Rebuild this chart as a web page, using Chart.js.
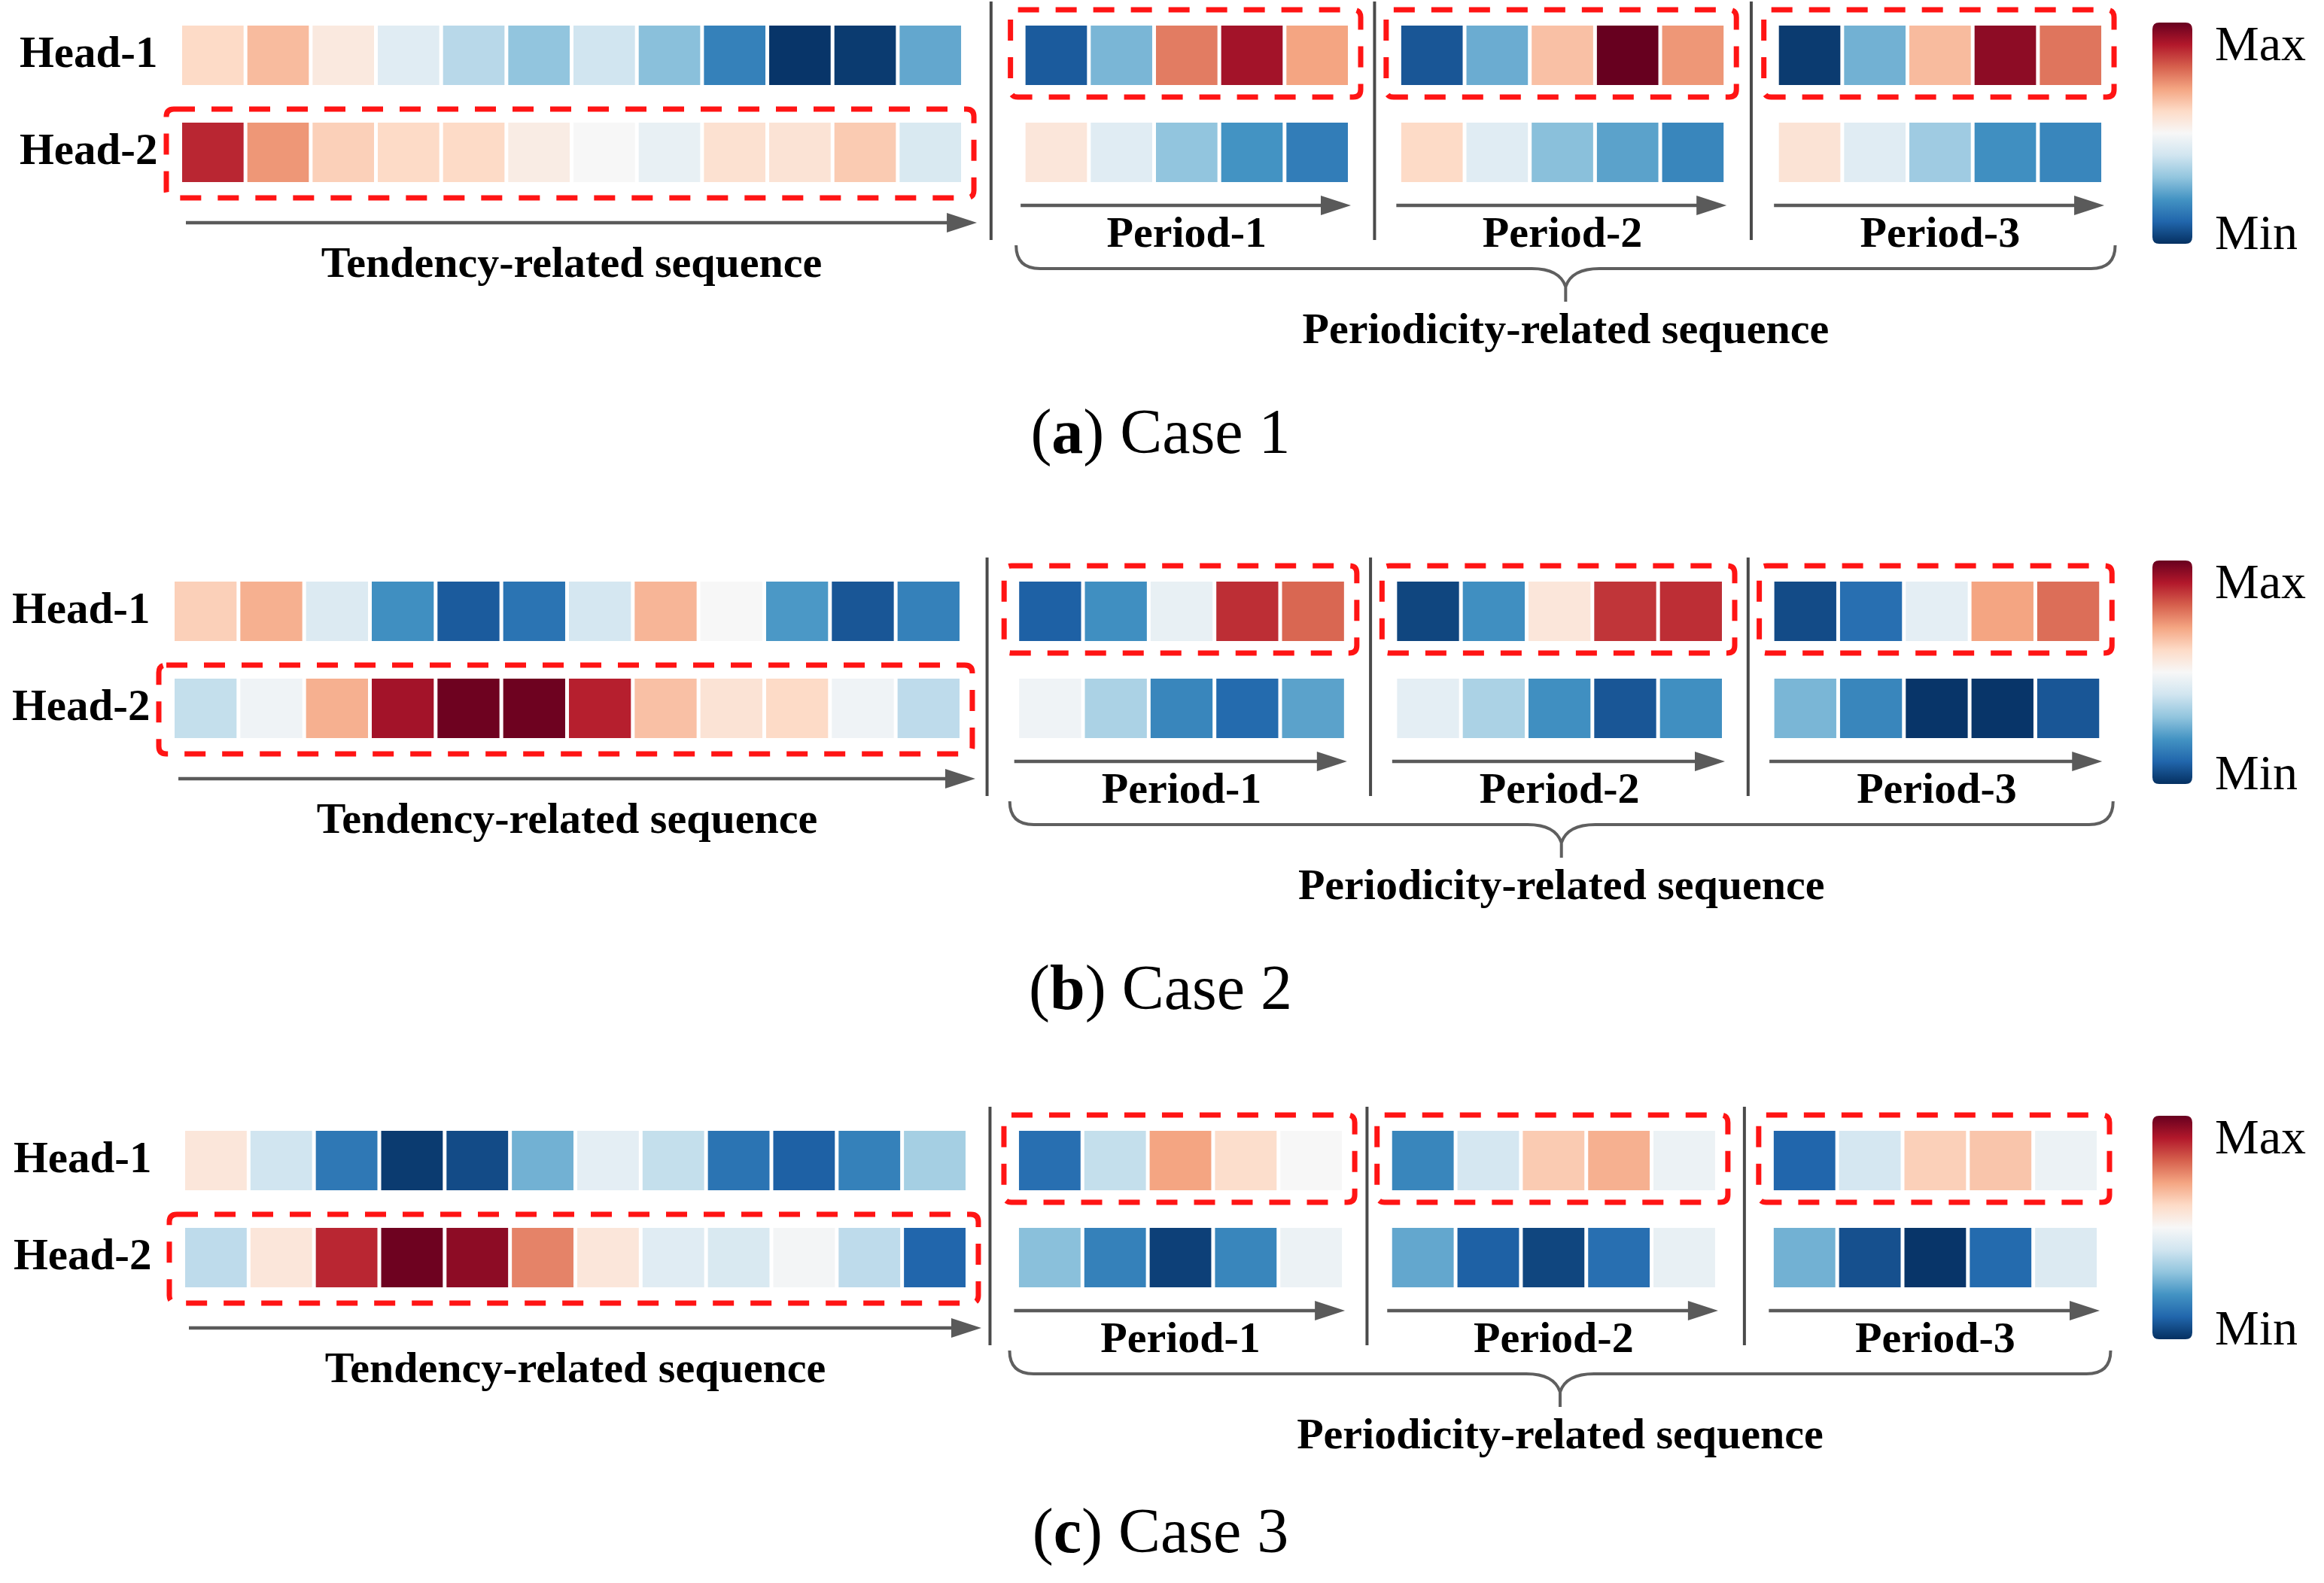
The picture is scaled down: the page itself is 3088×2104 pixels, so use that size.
<!DOCTYPE html>
<html>
<head>
<meta charset="utf-8">
<script src="https://cdn.jsdelivr.net/npm/chart.js@4.4.1/dist/chart.umd.min.js"></script>
<style>
  html, body { margin: 0; padding: 0; background: #ffffff; overflow: hidden; width: 3088px; height: 2104px; }
  .panel { position: absolute; left: 0; width: 3088px; height: 660px; }
</style>
</head>
<body>
<div class="panel" style="top:0px"><canvas id="chartA" width="3088" height="660"></canvas></div>
<div class="panel" style="top:739px"><canvas id="chartB" width="3088" height="660"></canvas></div>
<div class="panel" style="top:1469px"><canvas id="chartC" width="3088" height="660"></canvas></div>
<script>
// ---------------- DATA (0 = Min, 1 = Max) ----------------
const heads = ['Head-1', 'Head-2'];
const periodLabels = ['Period-1', 'Period-2', 'Period-3'];
const tendencyLabel = 'Tendency-related sequence';
const periodicityLabel = 'Periodicity-related sequence';
const colorbarLabels = ['Max', 'Min'];
const captionLetters = ['a', 'b', 'c'];
const captionTexts = ['Case 1', 'Case 2', 'Case 3'];

// Case 1
const case1TendencyHead1 = [0.60, 0.66, 0.55, 0.44, 0.36, 0.30, 0.40, 0.29, 0.16, 0.01, 0.02, 0.24];
const case1TendencyHead2 = [0.88, 0.72, 0.62, 0.60, 0.60, 0.54, 0.50, 0.46, 0.58, 0.57, 0.63, 0.42];
const case1PeriodHead1 = [[0.08, 0.27, 0.76, 0.92, 0.70], [0.07, 0.25, 0.65, 1.00, 0.72], [0.02, 0.26, 0.66, 0.95, 0.77]];
const case1PeriodHead2 = [[0.56, 0.44, 0.30, 0.20, 0.15], [0.60, 0.44, 0.29, 0.23, 0.17], [0.57, 0.44, 0.32, 0.19, 0.17]];

// Case 2
const case2TendencyHead1 = [0.62, 0.68, 0.43, 0.19, 0.08, 0.13, 0.41, 0.67, 0.50, 0.21, 0.07, 0.16];
const case2TendencyHead2 = [0.38, 0.48, 0.68, 0.92, 0.99, 0.99, 0.89, 0.65, 0.57, 0.60, 0.48, 0.37];
const case2PeriodHead1 = [[0.09, 0.19, 0.46, 0.87, 0.79], [0.04, 0.19, 0.56, 0.86, 0.87], [0.05, 0.12, 0.45, 0.70, 0.78]];
const case2PeriodHead2 = [[0.48, 0.34, 0.17, 0.11, 0.23], [0.45, 0.34, 0.19, 0.07, 0.19], [0.27, 0.17, 0.01, 0.01, 0.07]];

// Case 3
const case3TendencyHead1 = [0.56, 0.40, 0.14, 0.02, 0.05, 0.26, 0.45, 0.38, 0.13, 0.09, 0.16, 0.33];
const case3TendencyHead2 = [0.37, 0.56, 0.88, 0.99, 0.95, 0.75, 0.56, 0.44, 0.42, 0.49, 0.37, 0.10];
const case3PeriodHead1 = [[0.12, 0.38, 0.70, 0.59, 0.50], [0.17, 0.41, 0.63, 0.68, 0.47], [0.10, 0.41, 0.62, 0.64, 0.47]];
const case3PeriodHead2 = [[0.29, 0.16, 0.03, 0.17, 0.47], [0.24, 0.09, 0.04, 0.12, 0.46], [0.26, 0.06, 0.01, 0.11, 0.43]];

// ---------------- LAYOUT / STYLE ----------------
const W = 3088, H = 660;
const XMAX = 30;
const ROW_TOP = 34, ROW_PITCH = 129, ROW_H = 79;
const BAR_PCT = ROW_H / ROW_PITCH;
const INSET = 2.5;
const panelLayout = [
  { origin: 239.5, pitch: 86.67, periodStart: [12.93, 18.69, 24.48], cbar: [30, 324], captionY: 602, tickPad: 30 },
  { origin: 229.5, pitch: 87.33, periodStart: [12.85, 18.60, 24.34], cbar: [6, 303], captionY: 602, tickPad: 30 },
  { origin: 243.5, pitch: 86.83, periodStart: [12.76, 18.47, 24.31], cbar: [14, 311], captionY: 594, tickPad: 42 }
];
const SERIF = '"Liberation Serif", "Times New Roman", serif';
const RDBU = ['#053061', '#2166ac', '#4393c3', '#92c5de', '#d1e5f0', '#f7f7f7', '#fddbc7', '#f4a582', '#d6604d', '#b2182b', '#67001f'];

function hexRgb(h) { return [parseInt(h.slice(1, 3), 16), parseInt(h.slice(3, 5), 16), parseInt(h.slice(5, 7), 16)]; }
function rdbu(v) {
  const t = Math.max(0, Math.min(1, v)) * 10;
  const i = Math.min(9, Math.floor(t));
  const f = t - i;
  const a = hexRgb(RDBU[i]), b = hexRgb(RDBU[i + 1]);
  return 'rgb(' + a.map((c, k) => Math.round(c + (b[k] - c) * f)).join(',') + ')';
}

function buildCells(tH1, tH2, pH1, pH2, L) {
  const data = [], colors = [];
  const add = (start, vals, head) => vals.forEach((v, i) => {
    data.push({ x: [start + i, start + i + 1], y: head });
    colors.push(rdbu(v));
  });
  add(0, tH1, heads[0]);
  add(0, tH2, heads[1]);
  pH1.forEach((vals, k) => add(L.periodStart[k], vals, heads[0]));
  pH2.forEach((vals, k) => add(L.periodStart[k], vals, heads[1]));
  return { data, colors };
}

function roundRectPath(ctx, x0, y0, x1, y1, r) {
  ctx.beginPath();
  ctx.moveTo(x0 + r, y0);
  ctx.lineTo(x1 - r, y0);
  ctx.quadraticCurveTo(x1, y0, x1, y0 + r);
  ctx.lineTo(x1, y1 - r);
  ctx.quadraticCurveTo(x1, y1, x1 - r, y1);
  ctx.lineTo(x0 + r, y1);
  ctx.quadraticCurveTo(x0, y1, x0, y1 - r);
  ctx.lineTo(x0, y0 + r);
  ctx.quadraticCurveTo(x0, y0, x0 + r, y0);
  ctx.closePath();
}

function arrow(ctx, x0, x1, y) {
  ctx.save();
  ctx.strokeStyle = '#5a5a5a';
  ctx.fillStyle = '#5a5a5a';
  ctx.lineWidth = 4.5;
  ctx.beginPath();
  ctx.moveTo(x0, y);
  ctx.lineTo(x1 - 30, y);
  ctx.stroke();
  ctx.beginPath();
  ctx.moveTo(x1, y);
  ctx.lineTo(x1 - 40, y - 13);
  ctx.lineTo(x1 - 40, y + 13);
  ctx.closePath();
  ctx.fill();
  ctx.restore();
}

const annotPlugin = {
  id: 'annot',
  afterDatasetsDraw(chart, args, opts) {
    const L = panelLayout[opts.panel];
    const ctx = chart.ctx, xs = chart.scales.x, ys = chart.scales.y;
    const X = v => xs.getPixelForValue(v);
    const band = ys.getPixelForValue(1) - ys.getPixelForValue(0);
    const rh = band * BAR_PCT;
    const rTop = r => ys.getPixelForValue(r) - rh / 2;
    const rBot = r => ys.getPixelForValue(r) + rh / 2;
    const n = case1TendencyHead1.length, pl = case1PeriodHead1[0].length;
    ctx.save();
    ctx.setLineDash([28, 22]);
    ctx.lineWidth = 7;
    ctx.strokeStyle = '#ff1414';
    roundRectPath(ctx, X(0) + INSET - 21, rTop(1) - 18, X(n) - INSET + 17, rBot(1) + 21, 10);
    ctx.stroke();
    L.periodStart.forEach(s => {
      roundRectPath(ctx, X(s) + INSET - 20, rTop(0) - 21, X(s + pl) - INSET + 17, rBot(0) + 16, 10);
      ctx.stroke();
    });
    ctx.restore();
  },
  afterDraw(chart, args, opts) {
    const k = opts.panel;
    const L = panelLayout[k];
    const ctx = chart.ctx, xs = chart.scales.x, ys = chart.scales.y;
    const X = v => xs.getPixelForValue(v);
    const band = ys.getPixelForValue(1) - ys.getPixelForValue(0);
    const rh = band * BAR_PCT;
    const bot = ys.getPixelForValue(1) + rh / 2;
    const n = case1TendencyHead1.length, pl = case1PeriodHead1[0].length;
    const ps = L.periodStart;

    // arrows
    arrow(ctx, X(0) + 7.5, X(n) + 18.5, bot + 54);
    ps.forEach(s => arrow(ctx, X(s) - 4, X(s + pl) + 1.5, bot + 31));

    // dividers
    ctx.save();
    ctx.strokeStyle = '#4a4a4a';
    ctx.lineWidth = 4;
    const divs = [(X(n) + X(ps[0])) / 2 - 3, (X(ps[0] + pl) + X(ps[1])) / 2, (X(ps[1] + pl) + X(ps[2])) / 2];
    divs.forEach(x => { ctx.beginPath(); ctx.moveTo(x, 2); ctx.lineTo(x, bot + 77); ctx.stroke(); });
    ctx.restore();

    // bold labels
    ctx.save();
    ctx.fillStyle = '#000';
    ctx.textAlign = 'center';
    ctx.textBaseline = 'alphabetic';
    ctx.font = 'bold 58px ' + SERIF;
    ctx.fillText(tendencyLabel, (X(0) + X(n)) / 2, bot + 126);
    ps.forEach((s, i) => ctx.fillText(periodLabels[i], X(s + pl / 2), bot + 86));

    // brace
    const bl = X(ps[0]) - 10, br = X(ps[2] + pl) + 16;
    const bt = bot + 84, by = bt + 31, tip = bt + 75, cx = (bl + br) / 2;
    ctx.strokeStyle = '#5f5f5f';
    ctx.lineWidth = 4;
    ctx.beginPath();
    ctx.moveTo(bl, bt);
    ctx.quadraticCurveTo(bl, by, bl + 32, by);
    ctx.lineTo(cx - 45, by);
    ctx.quadraticCurveTo(cx - 8, by, cx, by + 24);
    ctx.lineTo(cx, tip);
    ctx.moveTo(br, bt);
    ctx.quadraticCurveTo(br, by, br - 32, by);
    ctx.lineTo(cx + 45, by);
    ctx.quadraticCurveTo(cx + 8, by, cx, by + 24);
    ctx.stroke();
    ctx.fillText(periodicityLabel, cx, bot + 214);
    ctx.restore();

    // colorbar
    ctx.save();
    const cx0 = 2860, cx1 = 2913, cy0 = L.cbar[0], cy1 = L.cbar[1];
    const g = ctx.createLinearGradient(0, cy0, 0, cy1);
    RDBU.slice().reverse().forEach((c, i) => g.addColorStop(i / (RDBU.length - 1), c));
    roundRectPath(ctx, cx0, cy0, cx1, cy1, 9);
    ctx.fillStyle = g;
    ctx.fill();
    ctx.fillStyle = '#000';
    ctx.textAlign = 'left';
    ctx.font = '66px ' + SERIF;
    ctx.fillText(colorbarLabels[0], 2943, cy0 + 50);
    ctx.fillText(colorbarLabels[1], 2943, cy1 + 7);
    ctx.restore();

    // caption
    ctx.save();
    ctx.fillStyle = '#000';
    ctx.textAlign = 'left';
    const reg = '84px ' + SERIF, bold = 'bold 84px ' + SERIF;
    ctx.font = reg; const w1 = ctx.measureText('(').width;
    ctx.font = bold; const w2 = ctx.measureText(captionLetters[k]).width;
    ctx.font = reg; const rest = ') ' + captionTexts[k]; const w3 = ctx.measureText(rest).width;
    let x = 1542 - (w1 + w2 + w3) / 2;
    const y = L.captionY;
    ctx.font = reg; ctx.fillText('(', x, y); x += w1;
    ctx.font = bold; ctx.fillText(captionLetters[k], x, y); x += w2;
    ctx.font = reg; ctx.fillText(rest, x, y);
    ctx.restore();
  }
};

function makeChart(id, k, tH1, tH2, pH1, pH2) {
  const L = panelLayout[k];
  const cells = buildCells(tH1, tH2, pH1, pH2, L);
  const padTop = ROW_TOP - (ROW_PITCH - ROW_H) / 2;
  return new Chart(document.getElementById(id), {
    type: 'bar',
    data: {
      labels: heads,
      datasets: [{
        data: cells.data,
        backgroundColor: cells.colors,
        borderColor: '#ffffff',
        borderWidth: { left: INSET, right: INSET, top: 0, bottom: 0 },
        borderSkipped: false,
        categoryPercentage: 1,
        barPercentage: BAR_PCT,
        inflateAmount: 0
      }]
    },
    options: {
      indexAxis: 'y',
      responsive: false,
      animation: false,
      layout: {
        padding: {
          left: 0,
          right: W - (L.origin + XMAX * L.pitch),
          top: padTop,
          bottom: H - padTop - 2 * ROW_PITCH
        }
      },
      scales: {
        x: { type: 'linear', min: 0, max: XMAX, display: false },
        y: {
          type: 'category',
          offset: true,
          grid: { display: false, drawTicks: false },
          border: { display: false },
          ticks: { color: '#000', padding: L.tickPad, font: { family: SERIF, size: 59, weight: 'bold' } },
          afterFit: s => { s.width = L.origin; s.paddingTop = 0; s.paddingBottom = 0; }
        }
      },
      plugins: { legend: { display: false }, tooltip: { enabled: false }, annot: { panel: k } }
    },
    plugins: [annotPlugin]
  });
}

makeChart('chartA', 0, case1TendencyHead1, case1TendencyHead2, case1PeriodHead1, case1PeriodHead2);
makeChart('chartB', 1, case2TendencyHead1, case2TendencyHead2, case2PeriodHead1, case2PeriodHead2);
makeChart('chartC', 2, case3TendencyHead1, case3TendencyHead2, case3PeriodHead1, case3PeriodHead2);
</script>
</body>
</html>
